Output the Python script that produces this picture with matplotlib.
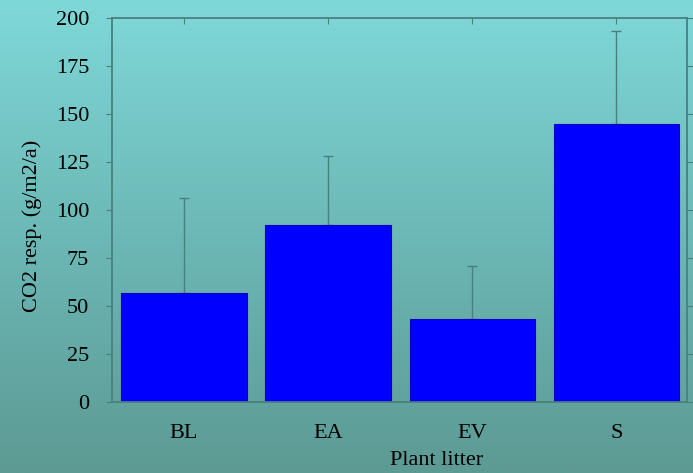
import numpy as np
import matplotlib
matplotlib.use("Agg")
import matplotlib.pyplot as plt
from matplotlib.colors import LinearSegmentedColormap

categories = ["BL", "EA", "EV", "S"]
values = [57, 92, 43, 145]
errors = [49, 36, 28, 48]
y_ticks = [0, 25, 50, 75, 100, 125, 150, 175, 200]

plt.rcParams["font.family"] = ["Liberation Serif", "DejaVu Serif"]
FS = 16

fig = plt.figure(figsize=(6.93, 4.73), dpi=100)

# vertical teal gradient behind everything
bg = fig.add_axes([0, 0, 1, 1], zorder=-10)
cmap = LinearSegmentedColormap.from_list("bg", ["#5d9a94", "#6cb8b6", "#7fd8d8"])
grad = np.linspace(0, 1, 256).reshape(-1, 1)
bg.imshow(grad, aspect="auto", cmap=cmap, origin="lower", extent=[0, 1, 0, 1])
bg.set_axis_off()

ax = fig.add_axes([112 / 693, 1 - 402 / 473, (687 - 112) / 693, (402 - 18) / 473])
ax.patch.set_alpha(0)

spine_col = "#4a7f80"
x = np.arange(len(categories))
ax.bar(x, values, width=0.87, color="#0000ff", edgecolor="#0000c0", linewidth=0.8, zorder=2)
ax.errorbar(x, values, yerr=[np.zeros(len(errors)), errors], fmt="none",
            ecolor=spine_col, elinewidth=1.0, capsize=3.5, capthick=1.0, zorder=1)

ax.set_xlim(-0.5, 3.49)
ax.set_ylim(0, 200)
ax.set_yticks(y_ticks)
ax.set_xticks(x)
ax.set_xticklabels(categories)

for s in ax.spines.values():
    s.set_color(spine_col)
    s.set_linewidth(1.3)

ax.tick_params(axis="y", which="both", direction="out", length=4.5, color=spine_col,
               labelsize=FS, right=True, pad=12)
ax.tick_params(axis="x", direction="in", length=4, color=spine_col,
               labelsize=FS, top=True, pad=16)
ax.set_xlabel("Plant litter", fontsize=FS)
ax.xaxis.set_label_coords(0.565, -0.128)
ax.set_ylabel("CO2 resp. (g/m2/a)", fontsize=FS)
ax.yaxis.set_label_coords(-0.121, 0.458)

fig.savefig("out.png", dpi=100)
